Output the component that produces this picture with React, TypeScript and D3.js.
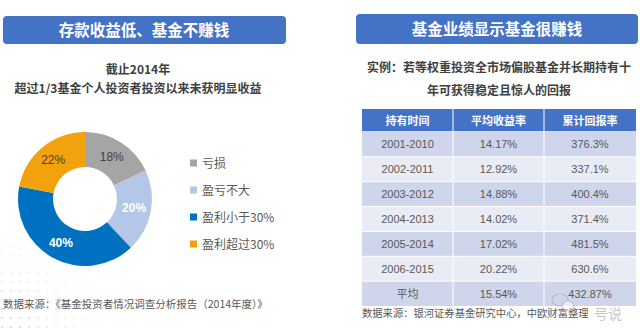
import { useEffect, useRef } from 'react';
import * as d3 from 'd3';

// left panel: share of fund investors by outcome (to end of 2014)
const outcomeNames = ['亏损', '盈亏不大', '盈利小于30%', '盈利超过30%'];
const outcomeShares = [18, 20, 40, 22];
const outcomeColors = ['#a5a5a5', '#b4c7e7', '#0070c0', '#f2a20c'];

// right panel: ten-year holding returns
const tableHeaders = ['持有时间', '平均收益率', '累计回报率'];
const holdPeriods = ['2001-2010', '2002-2011', '2003-2012', '2004-2013', '2005-2014', '2006-2015', '平均'];
const avgReturns = ['14.17%', '12.92%', '14.88%', '14.02%', '17.02%', '20.22%', '15.54%'];
const cumReturns = ['376.3%', '337.1%', '400.4%', '371.4%', '481.5%', '630.6%', '432.87%'];

const CJK = '"Noto Sans CJK SC", "Liberation Sans", sans-serif';
const LATIN = '"Liberation Sans", Arial, sans-serif';

const App = () => {
    const ref = useRef<SVGSVGElement>(null);

    useEffect(() => {
        const svg = d3.select(ref.current);
        svg.selectAll('*').remove();

        // faint dotted texture, lower left
        const dots = svg.append('g');
        for (let x = 2; x < 140; x += 9) {
            for (let y = 228; y < 333; y += 9) {
                const d = Math.hypot(x, 333 - y);
                const op = Math.max(0, 0.9 - d / 130);
                if (op <= 0.05) continue;
                dots.append('circle').attr('cx', x).attr('cy', y).attr('r', 1.1)
                    .attr('fill', '#c9d3e6').attr('opacity', op);
            }
        }

        // ---------- left panel ----------
        svg.append('rect').attr('x', 3).attr('y', 16).attr('width', 283).attr('height', 28)
            .attr('rx', 4).attr('fill', '#4472c4');
        svg.append('text').attr('x', 144).attr('y', 36).attr('text-anchor', 'middle')
            .attr('fill', '#fff').attr('font-family', CJK).attr('font-weight', 'bold')
            .attr('font-size', 15.5).text('存款收益低、基金不赚钱');

        svg.append('text').attr('x', 138).attr('y', 74).attr('text-anchor', 'middle')
            .attr('fill', '#404040').attr('font-family', CJK).attr('font-weight', 'bold')
            .attr('font-size', 12).text('截止2014年');
        svg.append('text').attr('x', 138).attr('y', 93).attr('text-anchor', 'middle')
            .attr('fill', '#404040').attr('font-family', CJK).attr('font-weight', 'bold')
            .attr('font-size', 12).text('超过1/3基金个人投资者投资以来未获明显收益');

        const pie = d3.pie<number>().sort(null).value(d => d);
        const arcs = pie(outcomeShares);
        const arc = d3.arc<d3.PieArcDatum<number>>().innerRadius(32).outerRadius(67);
        const labelArc = d3.arc<d3.PieArcDatum<number>>().innerRadius(50).outerRadius(50);

        const donut = svg.append('g').attr('transform', 'translate(85,199)');
        donut.selectAll('path').data(arcs).enter().append('path')
            .attr('d', arc)
            .attr('fill', (_, i) => outcomeColors[i]);
        donut.selectAll('text').data(arcs).enter().append('text')
            .attr('x', d => labelArc.centroid(d)[0])
            .attr('y', d => labelArc.centroid(d)[1] + 4)
            .attr('text-anchor', 'middle')
            .attr('font-family', LATIN)
            .attr('font-size', 12)
            .attr('font-weight', (_, i) => (i === 1 || i === 2 ? 'bold' : 'normal'))
            .attr('fill', (_, i) => (i === 1 || i === 2 ? '#fff' : '#404040'))
            .text(d => `${d.data}%`);

        // legend
        const legendY = d3.scalePoint<string>().domain(outcomeNames).range([163, 244]);
        const legend = svg.append('g');
        outcomeNames.forEach((name, i) => {
            const y = legendY(name) as number;
            legend.append('rect').attr('x', 190).attr('y', y - 3.5).attr('width', 7).attr('height', 7)
                .attr('fill', outcomeColors[i]);
            legend.append('text').attr('x', 202).attr('y', y + 4.5)
                .attr('font-family', CJK).attr('font-size', 12).attr('fill', '#595959')
                .text(name);
        });

        svg.append('text').attr('x', 3).attr('y', 308)
            .attr('font-family', CJK).attr('font-size', 10.5).attr('fill', '#595959')
            .text('数据来源：《基金投资者情况调查分析报告（2014年度）》');

        // ---------- right panel ----------
        svg.append('rect').attr('x', 356).attr('y', 14).attr('width', 282).attr('height', 30)
            .attr('rx', 4).attr('fill', '#4472c4');
        svg.append('text').attr('x', 497).attr('y', 35).attr('text-anchor', 'middle')
            .attr('fill', '#fff').attr('font-family', CJK).attr('font-weight', 'bold')
            .attr('font-size', 15.5).text('基金业绩显示基金很赚钱');

        svg.append('text').attr('x', 499).attr('y', 72).attr('text-anchor', 'middle')
            .attr('fill', '#404040').attr('font-family', CJK).attr('font-weight', 'bold')
            .attr('font-size', 12).text('实例：若等权重投资全市场偏股基金并长期持有十');
        svg.append('text').attr('x', 499).attr('y', 95).attr('text-anchor', 'middle')
            .attr('fill', '#404040').attr('font-family', CJK).attr('font-weight', 'bold')
            .attr('font-size', 12).text('年可获得稳定且惊人的回报');

        const colX = [362, 453, 544, 636];
        const rowBand = d3.scaleBand<string>().domain(holdPeriods).range([132, 306]);
        const table = svg.append('g');
        // header
        table.append('rect').attr('x', colX[0]).attr('y', 109).attr('width', colX[3] - colX[0])
            .attr('height', 23).attr('fill', '#4472c4');
        tableHeaders.forEach((h, c) => {
            table.append('text').attr('x', (colX[c] + colX[c + 1]) / 2).attr('y', 124.5)
                .attr('text-anchor', 'middle').attr('font-family', CJK).attr('font-weight', 'bold')
                .attr('font-size', 11).attr('fill', '#fff').text(h);
        });
        table.append('line').attr('x1', colX[0]).attr('x2', colX[3]).attr('y1', 132).attr('y2', 132)
            .attr('stroke', '#fff').attr('stroke-width', 1.5);
        holdPeriods.forEach((p, r) => {
            const y = rowBand(p) as number;
            const h = rowBand.bandwidth();
            table.append('rect').attr('x', colX[0]).attr('y', y).attr('width', colX[3] - colX[0])
                .attr('height', h).attr('fill', r % 2 === 0 ? '#cfd5ea' : '#e9ebf5');
            if (r > 0) {
                table.append('line').attr('x1', colX[0]).attr('x2', colX[3]).attr('y1', y).attr('y2', y)
                    .attr('stroke', '#fff').attr('stroke-width', 1);
            }
            [p, avgReturns[r], cumReturns[r]].forEach((v, c) => {
                table.append('text').attr('x', (colX[c] + colX[c + 1]) / 2).attr('y', y + h / 2 + 4)
                    .attr('text-anchor', 'middle')
                    .attr('font-family', c === 0 && r === holdPeriods.length - 1 ? CJK : LATIN)
                    .attr('font-size', 11).attr('fill', '#595959').text(v);
            });
        });
        [colX[1], colX[2]].forEach(x => {
            table.append('line').attr('x1', x).attr('x2', x).attr('y1', 109).attr('y2', 306)
                .attr('stroke', '#fff').attr('stroke-width', 1);
        });

        svg.append('text').attr('x', 362).attr('y', 317)
            .attr('font-family', CJK).attr('font-size', 10.3).attr('fill', '#595959')
            .text('数据来源：银河证券基金研究中心，中欧财富整理');

        // watermark, kept just below the table so it does not cover the numbers
        const wm = svg.append('g').attr('opacity', 0.55);
        wm.append('ellipse').attr('cx', 560).attr('cy', 300).attr('rx', 8).attr('ry', 6)
            .attr('fill', 'none').attr('stroke', '#aaa').attr('stroke-width', 1.2);
        wm.append('ellipse').attr('cx', 568).attr('cy', 306).attr('rx', 6).attr('ry', 5)
            .attr('fill', '#fff').attr('stroke', '#aaa').attr('stroke-width', 1.2);
        wm.append('text').attr('x', 594).attr('y', 319).attr('font-family', CJK)
            .attr('font-size', 14).attr('fill', '#999').text('号说');
    }, []);

    return (
        <svg ref={ref} width={640} height={333}
            style={{ position: 'absolute', left: 0, top: 0, background: '#fff' }} />
    );
};

export default App;
